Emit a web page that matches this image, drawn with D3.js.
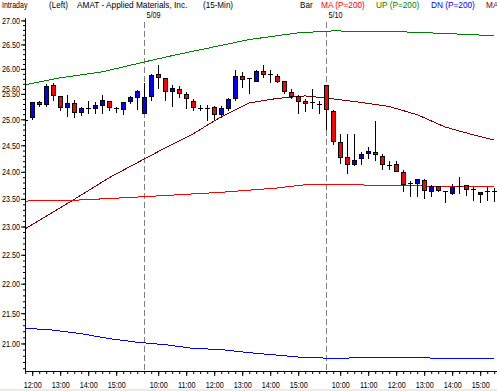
<!DOCTYPE html>
<html lang="en">
<head>
<meta charset="utf-8">
<title>AMAT - Applied Materials, Inc. (15-Min)</title>
<script src="https://d3js.org/d3.v7.min.js"></script>
<style>
  body { margin: 0; background: #fff; }
  svg text { font-family: "Liberation Sans", Arial, sans-serif; font-size: 9.5px; }
</style>
</head>
<body>
<div id="chart"></div>
<script>
// 15-min bars, 5/08 11:45 .. 5/10 15:30
var open  = [24.99,25.05,25.34,25.30,25.67,25.46,25.24,25.32,25.14,25.22,25.22,25.28,25.36,25.22,25.20,25.36,25.44,
             25.13,25.45,25.89,25.82,25.55,25.60,25.49,25.36,25.23,25.23,25.24,25.10,25.23,25.41,25.86,25.82,25.76,25.96,25.90,25.85,25.76,25.54,25.45,25.36,25.33,25.30,
             25.67,25.17,24.57,24.28,24.15,24.25,24.35,24.38,24.29,24.13,24.15,24.00,23.80,23.80,23.85,23.65,23.73,23.64,23.61,23.73,23.75,23.69,23.58,23.65,23.65];
var high  = [25.13,25.35,25.37,25.71,25.74,25.47,25.50,25.39,25.26,25.38,25.36,25.49,25.38,25.27,25.34,25.48,25.60,
             25.73,25.92,26.09,25.82,25.70,25.67,25.55,25.41,25.29,25.29,25.28,25.28,25.43,26.00,25.96,25.84,26.00,26.09,25.99,25.92,25.76,25.62,25.50,25.41,25.62,25.38,
             25.68,25.20,24.73,24.74,24.74,24.40,24.49,24.98,24.36,24.22,24.22,24.05,23.85,23.88,23.88,23.77,23.76,23.64,23.80,23.93,23.77,23.73,23.65,23.73,23.72];
var low   = [24.85,25.00,25.26,25.26,25.38,25.18,25.06,25.04,25.08,25.12,25.13,25.13,25.18,25.14,25.10,25.32,25.20,
             25.12,25.38,25.62,25.37,25.27,25.43,25.23,25.19,25.18,24.99,25.01,25.05,25.18,25.38,25.63,25.52,25.75,25.83,25.74,25.74,25.52,25.41,25.12,25.17,25.22,25.13,
             24.81,24.53,24.17,23.97,24.13,24.15,24.25,24.22,24.05,24.05,24.02,23.64,23.55,23.55,23.52,23.55,23.65,23.45,23.59,23.61,23.57,23.48,23.45,23.48,23.47];
var close = [24.99,25.34,25.30,25.66,25.47,25.24,25.32,25.14,25.22,25.22,25.28,25.38,25.24,25.22,25.34,25.44,25.56,
             25.44,25.87,25.84,25.56,25.62,25.52,25.41,25.24,25.23,25.23,25.10,25.23,25.40,25.86,25.80,25.82,25.96,25.90,25.90,25.76,25.56,25.45,25.36,25.32,25.33,25.30,
             25.21,24.58,24.28,24.15,24.23,24.33,24.40,24.33,24.15,24.13,24.02,23.77,23.80,23.86,23.67,23.73,23.67,23.64,23.72,23.73,23.69,23.69,23.62,23.65,23.65];

// indicator lines, read at selected bars
var maBars   = [0, 8, 17, 28, 36, 40, 46, 55, 67];
var maValues = [23.46, 23.48, 23.54, 23.62, 23.70, 23.76, 23.76, 23.74, 23.72];
var upBars   = [0, 5, 11, 17, 21, 25, 32, 39, 44, 54, 61, 67];
var upValues = [25.68, 25.82, 25.94, 26.14, 26.27, 26.39, 26.60, 26.74, 26.78, 26.76, 26.72, 26.68];
var dnBars   = [0, 4, 8, 12, 16, 20, 24, 28, 32, 36, 40, 44, 50, 56, 62, 67];
var dnValues = [21.25, 21.22, 21.16, 21.08, 21.02, 20.98, 20.92, 20.90, 20.85, 20.81, 20.77, 20.76, 20.77, 20.77, 20.75, 20.75];
var ma2Bars   = [0, 4, 8, 12, 16, 20, 24, 28, 32, 36, 40, 44, 48, 52, 56, 60, 64, 67];
var ma2Values = [22.96, 23.26, 23.57, 23.89, 24.17, 24.45, 24.72, 25.05, 25.32, 25.41, 25.46, 25.40, 25.33, 25.25, 25.09, 24.85, 24.70, 24.60];

// axis labels
var hourTicks  = [1, 5, 9, 13, 19, 23, 27, 31, 35, 39, 45, 49, 53, 57, 61, 65];
var hourLabels = ["12:00","13:00","14:00","15:00","10:00","11:00","12:00","13:00","14:00","15:00",
                  "10:00","11:00","12:00","13:00","14:00","15:00"];
var dayStarts = [17, 43];
var dayLabels = ["5/09", "5/10"];
var priceTicks = [21.00, 21.50, 22.00, 22.50, 23.00, 23.50, 24.00, 24.50, 25.00, 25.50, 26.00, 26.50, 27.00];
var markerValue = 25.60;

var W = 497, H = 391;

var svg = d3.select("#chart").append("svg")
	.attr("width", W)
	.attr("height", H);

svg.append("rect").attr("x", 0).attr("y", 389).attr("width", W).attr("height", 2).attr("fill", "#ecebe6");

var x = d3.scaleLinear().domain([-0.03, 67.4]).range([25, 497]);
var y = d3.scaleLog().domain([20.555, 27.05]).range([371, 18]);
var px = function (i) { return Math.round(x(i)) + 0.5; };
var py = function (v) { return Math.round(y(v)) + 0.5; };

// header
var header = [
	{t: "Intraday", x: 2, c: "#000", k: 0.74},
	{t: "(Left)", x: 49, c: "#000", k: 0.85},
	{t: "AMAT - Applied Materials, Inc.", x: 77, c: "#000", k: 0.87},
	{t: "(15-Min)", x: 203, c: "#000", k: 0.85},
	{t: "Bar", x: 300, c: "#000", k: 0.85},
	{t: "MA (P=200)", x: 321, c: "#ff0000", k: 0.87},
	{t: "UP (P=200)", x: 376, c: "#008000", k: 0.87},
	{t: "DN (P=200)", x: 431, c: "#0000ff", k: 0.87},
	{t: "MA", x: 486, c: "#800000", k: 0.87}
];
svg.append("g").selectAll("text")
	.data(header)
	.enter().append("text")
	.attr("x", function (d) { return d.x; })
	.attr("y", 7.5)
	.attr("fill", function (d) { return d.c; })
	.text(function (d) { return d.t; });

// day separators
svg.append("g").selectAll("line")
	.data(dayStarts)
	.enter().append("line")
	.attr("x1", px).attr("x2", px)
	.attr("y1", 22).attr("y2", 371)
	.attr("stroke", "#808080")
	.attr("stroke-dasharray", "6,3");

svg.append("g").selectAll("text")
	.data(dayStarts)
	.enter().append("text")
	.attr("x", function (d) { return px(d) + 2; })
	.attr("y", 18.2)
	.text(function (d, i) { return dayLabels[i]; });

// Y axis
var minorY = d3.range(206, 271).map(function (d) { return d / 10; });
svg.append("g")
	.attr("transform", "translate(25,0)")
	.call(d3.axisLeft(y).tickValues(minorY).tickSize(2).tickSizeOuter(0).tickFormat(""));
var yAxis = svg.append("g")
	.attr("transform", "translate(25,0)")
	.call(d3.axisLeft(y).tickValues(priceTicks).tickSize(4).tickSizeOuter(0).tickPadding(1).tickFormat(d3.format(".2f")));
yAxis.selectAll("text").attr("fill", "#000").style("font-size", null);

// value marker on the axis (drawn over the 25.50 label, as in the original)
var mk = svg.append("g").attr("transform", "translate(0," + y(markerValue) + ")");
mk.append("rect").attr("x", 0).attr("y", -4).attr("width", 20.5).attr("height", 7).attr("fill", "#fff");
mk.append("text").attr("x", 20).attr("dy", "0.32em").attr("text-anchor", "end").text(d3.format(".2f")(markerValue));

// X axis
svg.append("g")
	.attr("transform", "translate(0,371)")
	.call(d3.axisBottom(x).tickValues(d3.range(0, 68)).tickSize(3).tickSizeOuter(0).tickFormat(""));
var xAxis = svg.append("g")
	.attr("transform", "translate(0,371)")
	.call(d3.axisBottom(x).tickValues(hourTicks).tickSize(5).tickSizeOuter(0).tickPadding(5)
		.tickFormat(function (d, i) { return hourLabels[i]; }));
xAxis.selectAll("text").attr("fill", "#000").style("font-size", null);
svg.selectAll(".domain, .tick line").attr("stroke", "#000");

// clip for the plot area
svg.append("clipPath").attr("id", "plot")
	.append("rect").attr("x", 26).attr("y", 18).attr("width", 471).attr("height", 353);

var lineFor = d3.line()
	.x(function (d) { return x(d[0]); })
	.y(function (d) { return y(d[1]); });

var lines = [
	{bars: ma2Bars, vals: ma2Values, c: "#800000"},
	{bars: maBars, vals: maValues, c: "#ff0000"},
	{bars: upBars, vals: upValues, c: "#008000"},
	{bars: dnBars, vals: dnValues, c: "#0000ff"}
];
svg.append("g").attr("clip-path", "url(#plot)")
	.selectAll("path")
	.data(lines)
	.enter().append("path")
	.attr("d", function (d) { return lineFor(d.bars.map(function (b, i) { return [b, d.vals[i]]; })); })
	.attr("fill", "none")
	.attr("stroke", function (d) { return d.c; })
	.attr("stroke-width", 1)
	.attr("shape-rendering", "crispEdges");

// candles
var bars = d3.range(open.length);
var cg = svg.append("g").attr("clip-path", "url(#plot)").attr("shape-rendering", "crispEdges");

cg.selectAll(".wick")
	.data(bars)
	.enter().append("line")
	.attr("class", "wick")
	.attr("x1", px).attr("x2", px)
	.attr("y1", function (i) { return py(high[i]); })
	.attr("y2", function (i) { return py(low[i]); })
	.attr("stroke", "#000");

cg.selectAll(".body")
	.data(bars.filter(function (i) { return open[i] !== close[i]; }))
	.enter().append("rect")
	.attr("class", "body")
	.attr("x", function (i) { return px(i) - 2; })
	.attr("width", 4)
	.attr("y", function (i) { return py(Math.max(open[i], close[i])); })
	.attr("height", function (i) { return Math.max(1, py(Math.min(open[i], close[i])) - py(Math.max(open[i], close[i]))); })
	.attr("fill", function (i) { return close[i] > open[i] ? "#0000ff" : "#ff0000"; })
	.attr("stroke", "#000");

cg.selectAll(".doji")
	.data(bars.filter(function (i) { return open[i] === close[i]; }))
	.enter().append("line")
	.attr("class", "doji")
	.attr("x1", function (i) { return px(i) - 2.5; })
	.attr("x2", function (i) { return px(i) + 2.5; })
	.attr("y1", function (i) { return py(open[i]); })
	.attr("y2", function (i) { return py(open[i]); })
	.attr("stroke", "#000");

// narrow the lettering, like the bitmap font of the original
svg.selectAll("text").each(function (d) {
	var len = this.getComputedTextLength();
	var k = (d && d.k) ? d.k : 0.76;
	if (len > 0) {
		this.setAttribute("textLength", len * k);
		this.setAttribute("lengthAdjust", "spacingAndGlyphs");
	}
});
</script>
</body>
</html>
